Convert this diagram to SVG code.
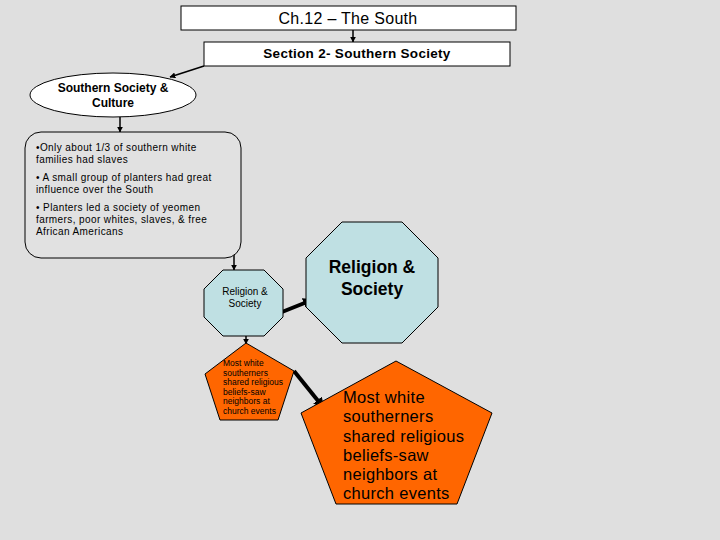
<svg xmlns="http://www.w3.org/2000/svg" width="720" height="540" viewBox="0 0 720 540">
<defs>
<style>
.t{font-family:"Liberation Sans",Arial,sans-serif;fill:#000}
.box{fill:#fff;stroke:#000;stroke-width:1}
.c{stroke:#000;fill:none}
</style>
<marker id="ah" viewBox="0 0 10 10" refX="8" refY="5" markerWidth="11" markerHeight="11" orient="auto" markerUnits="userSpaceOnUse">
<path d="M0,0 L10,5 L0,10 z" fill="#000"/>
</marker>
<marker id="ah2" viewBox="0 0 10 10" refX="9" refY="5" markerWidth="4" markerHeight="4" orient="auto">
<path d="M0,0 L10,5 L0,10 z" fill="#000"/>
</marker>
</defs>
<rect width="720" height="540" fill="#dfdfdf"/>
<g id="connectors">
<line class="c" x1="353" y1="30" x2="353" y2="42" stroke-width="1.5" marker-end="url(#ah2)"/>
<line class="c" x1="204" y1="66" x2="170" y2="77" stroke-width="1.5" marker-end="url(#ah2)"/>
<line class="c" x1="120" y1="117" x2="120" y2="132" stroke-width="1.5" marker-end="url(#ah2)"/>
<line class="c" x1="234" y1="251" x2="234" y2="270" stroke-width="1.5" marker-end="url(#ah2)"/>
<line class="c" x1="282" y1="312" x2="312" y2="300" stroke-width="4" marker-end="url(#ah)"/>
<line class="c" x1="246" y1="336" x2="246" y2="344" stroke-width="1.5" marker-end="url(#ah2)"/>
<line class="c" x1="294" y1="371" x2="323" y2="407" stroke-width="4" marker-end="url(#ah)"/>
</g>
<g id="title">
<rect class="box" x="181" y="6" width="335" height="24"/>
<text class="t" x="348" y="24" font-size="16" text-anchor="middle" letter-spacing="0.3">Ch.12 – The South</text>
</g>
<g id="section">
<rect class="box" x="204" y="42" width="306" height="24"/>
<text class="t" x="357" y="58" font-size="13.5" font-weight="bold" text-anchor="middle" letter-spacing="0.3">Section 2- Southern Society</text>
</g>
<g id="culture">
<ellipse class="box" cx="113" cy="95" rx="83" ry="22"/>
<text class="t" x="113" y="92" font-size="12" font-weight="bold" text-anchor="middle">Southern Society &amp;</text>
<text class="t" x="113" y="107" font-size="12" font-weight="bold" text-anchor="middle">Culture</text>
</g>
<g id="facts">
<rect x="25" y="132" width="216" height="126" rx="16" fill="#e1e1e1" stroke="#000" stroke-width="1"/>
<g class="t" font-size="10" letter-spacing="0.4">
<text x="36" y="151">•Only about 1/3 of southern white</text>
<text x="36" y="163">families had slaves</text>
<text x="36" y="181">• A small group of planters had great</text>
<text x="36" y="193">influence over the South</text>
<text x="36" y="211">• Planters led a society of yeomen</text>
<text x="36" y="223">farmers, poor whites, slaves, &amp; free</text>
<text x="36" y="235">African Americans</text>
</g>
</g>
<g id="religion-small">
<polygon points="223,270 264,270 283,289 283,317 264,336 223,336 204,317 204,289" fill="#bfe0e3" stroke="#000" stroke-width="1"/>
<text class="t" x="245" y="295" font-size="10" text-anchor="middle">Religion &amp;</text>
<text class="t" x="245" y="307" font-size="10" text-anchor="middle">Society</text>
</g>
<g id="religion-large">
<polygon points="342,222 402,222 438,258 438,307 402,343 342,343 306,307 306,258" fill="#bfe0e3" stroke="#000" stroke-width="1"/>
<text class="t" x="372" y="273" font-size="17.5" font-weight="bold" text-anchor="middle">Religion &amp;</text>
<text class="t" x="372" y="295" font-size="17.5" font-weight="bold" text-anchor="middle">Society</text>
</g>
<g id="beliefs-small">
<polygon points="246,343 294,371 278,420 220,420 205,374" fill="#ff6600" stroke="#000" stroke-width="1"/>
<g class="t" font-size="8.5">
<text x="223" y="366">Most white</text>
<text x="223" y="375.5">southerners</text>
<text x="223" y="385">shared religious</text>
<text x="223" y="394.5">beliefs-saw</text>
<text x="223" y="404">neighbors at</text>
<text x="223" y="413.5">church events</text>
</g>
</g>
<g id="beliefs-large">
<polygon points="396,361 492,413 457,504 336,504 301,413" fill="#ff6600" stroke="#000" stroke-width="1"/>
<g class="t" font-size="16.5" letter-spacing="0.3">
<text x="343" y="403">Most white</text>
<text x="343" y="422">southerners</text>
<text x="343" y="441.5">shared religious</text>
<text x="343" y="460.5">beliefs-saw</text>
<text x="343" y="480">neighbors at</text>
<text x="343" y="499">church events</text>
</g>
</g>
</svg>
